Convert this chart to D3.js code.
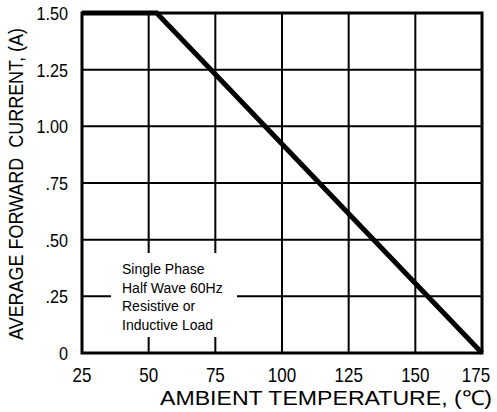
<!DOCTYPE html>
<html>
<head>
<meta charset="utf-8">
<script src="https://d3js.org/d3.v7.min.js"></script>
<style>
body { margin: 0; background: #fff; }
text { font-family: "Liberation Sans", Arial, sans-serif; fill: #000; }
</style>
</head>
<body>
<svg width="497" height="412"></svg>
<script>
var svg = d3.select('svg');

// data
var xTicks = [25, 50, 75, 100, 125, 150, 175];
var yTicks = [0, 0.25, 0.5, 0.75, 1.0, 1.25, 1.5];
var yTickLabels = ['0', '.25', '.50', '.75', '1.00', '1.25', '1.50'];
var temps = [25, 53, 175];
var currents = [1.5, 1.5, 0];
var noteLines = ['Single Phase', 'Half Wave 60Hz', 'Resistive or', 'Inductive Load'];

var plotL = 82, plotR = 482, plotT = 13, plotB = 353;

var xScale = d3.scaleLinear().domain([25, 175]).range([plotL, plotR]);
var yScale = d3.scaleLinear().domain([0, 1.5]).range([plotB, plotT]);

var g = svg.append('g');

// grid
g.selectAll('.vgrid')
    .data(xTicks)
    .enter().append('line')
    .attr('x1', function(d) { return xScale(d); })
    .attr('x2', function(d) { return xScale(d); })
    .attr('y1', plotT)
    .attr('y2', plotB)
    .attr('stroke', '#000')
    .attr('stroke-width', 2);

g.selectAll('.hgrid')
    .data(yTicks)
    .enter().append('line')
    .attr('x1', plotL)
    .attr('x2', plotR)
    .attr('y1', function(d) { return yScale(d); })
    .attr('y2', function(d) { return yScale(d); })
    .attr('stroke', '#000')
    .attr('stroke-width', 2);

// frame
g.append('rect')
    .attr('x', plotL)
    .attr('y', plotT)
    .attr('width', plotR - plotL)
    .attr('height', plotB - plotT)
    .attr('fill', 'none')
    .attr('stroke', '#000')
    .attr('stroke-width', 3);

// note box (white, hides the grid behind it)
g.append('rect')
    .attr('x', 111)
    .attr('y', 253)
    .attr('width', 126)
    .attr('height', 84)
    .attr('fill', '#fff');

g.append('text')
    .attr('x', 122)
    .attr('y', 274)
    .style('font-size', '14px')
    .selectAll('tspan')
    .data(noteLines)
    .enter().append('tspan')
    .attr('x', 122)
    .attr('dy', function(d, i) { return i ? 18.5 : 0; })
    .text(function(d) { return d; });

// derating curve
var line = d3.line()
    .x(function(d) { return xScale(d[0]); })
    .y(function(d) { return yScale(d[1]); });

g.append('path')
    .datum(d3.zip(temps, currents))
    .attr('d', line)
    .attr('fill', 'none')
    .attr('stroke', '#000')
    .attr('stroke-width', 5)
    .attr('stroke-linejoin', 'miter');

// tick labels (narrow face, so squeeze a little)
g.selectAll('.xlab')
    .data(xTicks)
    .enter().append('text')
    .attr('transform', function(d) {
        var x = Math.min(xScale(d), 476);
        return 'translate(' + x + ',382) scale(0.85,1)';
    })
    .attr('text-anchor', 'middle')
    .style('font-size', '20px')
    .text(function(d) { return d; });

g.selectAll('.ylab')
    .data(yTicks)
    .enter().append('text')
    .attr('transform', function(d) {
        return 'translate(68,' + (yScale(d) + 7) + ') scale(0.9,1)';
    })
    .attr('text-anchor', 'end')
    .style('font-size', '18px')
    .text(function(d, i) { return yTickLabels[i]; });

// axis titles
g.append('text')
    .attr('x', 160)
    .attr('y', 405)
    .attr('textLength', 332)
    .attr('lengthAdjust', 'spacingAndGlyphs')
    .style('font-size', '20.5px')
    .text('AMBIENT TEMPERATURE, (\u2103)');

g.append('text')
    .attr('transform', 'translate(23,340) rotate(-90)')
    .attr('textLength', 312)
    .attr('lengthAdjust', 'spacingAndGlyphs')
    .style('font-size', '20px')
    .style('white-space', 'pre')
    .text('AVERAGE FORWARD  CURRENT, (A)');
</script>
</body>
</html>
